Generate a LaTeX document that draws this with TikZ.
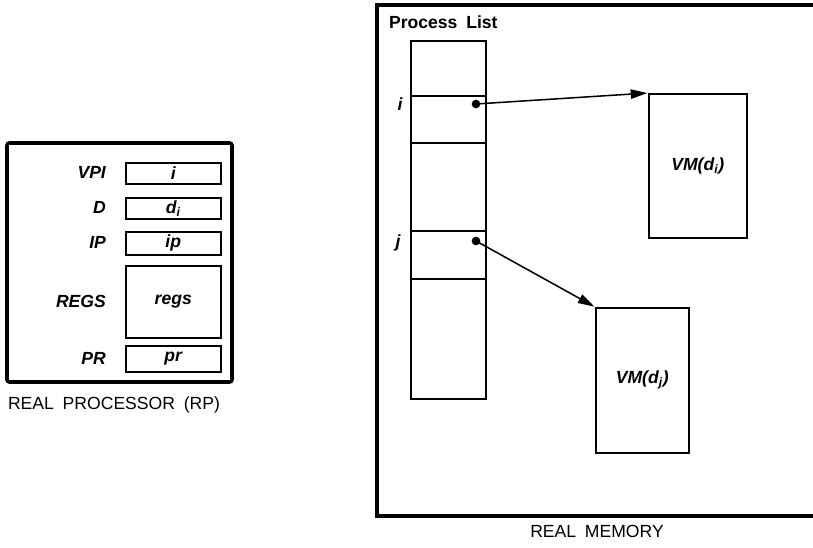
\documentclass[tikz,border=0pt]{standalone}
\usepackage{fontspec}
\setmainfont{Liberation Sans}
\usepackage{tikz}
\usetikzlibrary{arrows.meta}

\tikzset{
  cell/.style={draw, line width=1.3pt, inner sep=0pt, anchor=north west, minimum width=28.5mm},
  slot/.style={draw, line width=1.3pt, inner sep=0pt, anchor=north west, minimum width=22.5mm},
  lbl/.style={font=\fontsize{15}{17}\selectfont\bfseries\itshape},
  ptr/.style={line width=1.3pt, -{Triangle[length=5mm,width=2.8mm]}, shorten >=0.5pt}
}

\begin{document}
\begin{tikzpicture}[x=0.3mm,y=-0.3mm]
				\useasboundingbox (0,0) rectangle (813,548);

				% Real processor
				\draw[line width=3pt, rounded corners=2pt] (7,143) rectangle (232,382);
				\node[cell, minimum height=6.3mm, lbl] (vpi) at (125,162) {i};
				\node[cell, minimum height=6.3mm, lbl] (dreg) at (125,197) {d\textsubscript{i}};
				\node[cell, minimum height=6.9mm, lbl] (ipreg) at (125,231) {ip};
				\node[cell, minimum height=21.6mm, lbl] (regs) at (125,265) {regs};
				\node[cell, minimum height=7.8mm, lbl] (prreg) at (125,345) {pr};

				\node[lbl, anchor=east] (vpilbl) at (110,172.5) {VPI};
				\node[lbl, anchor=east] (dlbl) at (110,207.5) {D};
				\node[lbl, anchor=east] (iplbl) at (110,242.5) {IP};
				\node[lbl, anchor=east] (regslbl) at (110,301) {REGS};
				\node[lbl, anchor=east] (prlbl) at (110,358) {PR};

				\node[font=\fontsize{15}{17}\selectfont] (rp) at (114,405) {REAL\hspace{0.5em}PROCESSOR\hspace{0.5em}(RP)};

				% Real memory
				\draw[line width=3.2pt] (813,5) -- (377,5) -- (377,516) -- (813,516);
				\node[font=\fontsize{15}{17}\selectfont\bfseries, anchor=west] (plist) at (385,22) {Process\hspace{0.5em}List};
				\node[font=\fontsize{15}{17}\selectfont] (rm) at (597,531) {REAL\hspace{0.5em}MEMORY};

				\node[slot, minimum height=16.5mm] (s1) at (410,40) {};
				\node[slot, minimum height=14.1mm] (s2) at (410,95) {};
				\node[slot, minimum height=26.4mm] (s3) at (410,142) {};
				\node[slot, minimum height=14.4mm] (s4) at (410,230) {};
				\node[slot, minimum height=36mm] (s5) at (410,278) {};

				\node[lbl] (ilbl) at (400,104) {i};
				\node[lbl] (jlbl) at (398,243) {j};

				% Virtual memories
				\node[draw, line width=1.3pt, anchor=north west, minimum width=29.4mm, minimum height=43.2mm, lbl] (vmi) at (648,93) {VM(d\textsubscript{i})};
				\node[draw, line width=1.3pt, anchor=north west, minimum width=27.9mm, minimum height=43.5mm, lbl] (vmj) at (595,307) {VM(d\textsubscript{j})};

				% Pointers
				\coordinate (pi) at (476,104);
				\coordinate (pj) at (476,241);
				\fill (pi) circle (1.3mm);
				\fill (pj) circle (1.3mm);
				\draw[ptr] (pi) -- (vmi.north west);
				\draw[ptr] (pj) -- (vmj.north west);
			\end{tikzpicture}
\end{document}
